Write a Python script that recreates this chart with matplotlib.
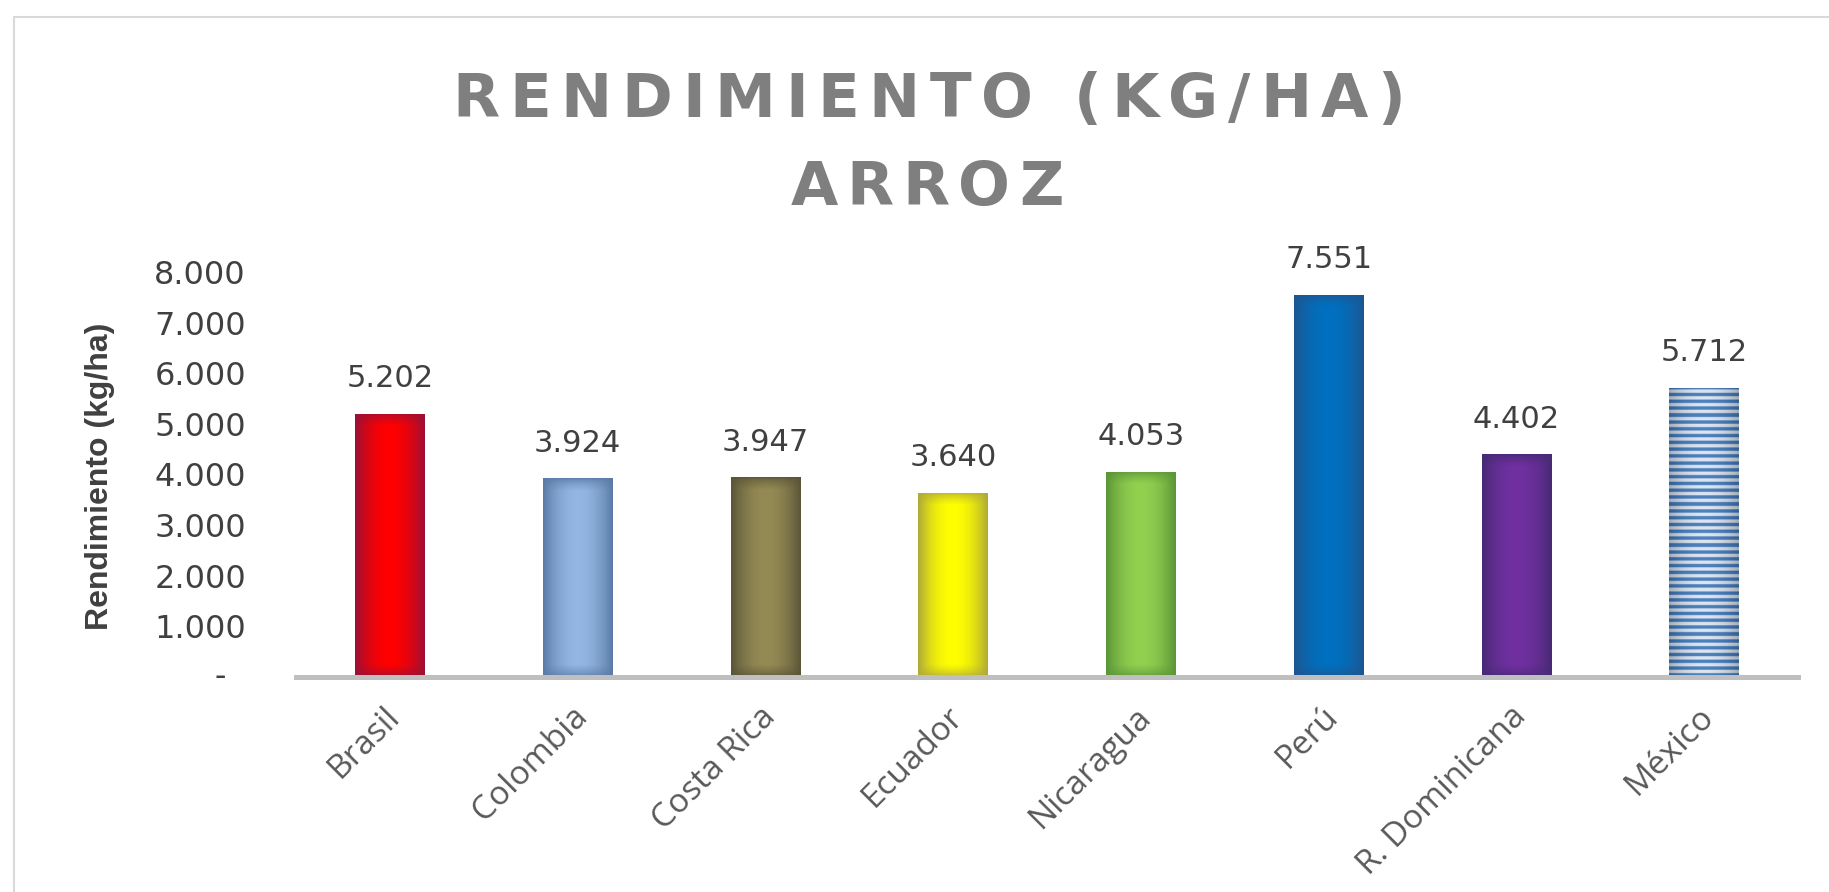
import numpy as np
import matplotlib
matplotlib.use('Agg')
import matplotlib.pyplot as plt
import matplotlib.transforms as mtransforms
from matplotlib.patches import Rectangle
from matplotlib.colors import to_rgb

# Datos
paises = ['Brasil', 'Colombia', 'Costa Rica', 'Ecuador', 'Nicaragua', 'Perú',
          'R. Dominicana', 'México']
rendimiento = [5202, 3924, 3947, 3640, 4053, 7551, 4402, 5712]
color_centro = ['#FF0000', '#93B6E2', '#948A54', '#FFFF00', '#92D050', '#0070C0',
                '#7030A0', '#4F81BD']
color_borde = ['#9A1035', '#5A7BA6', '#5A5538', '#B0AA38', '#5A9538', '#1D5690',
               '#472A75', '#2F5F95']
yticks = [0, 1000, 2000, 3000, 4000, 5000, 6000, 7000, 8000]
titulo = ['RENDIMIENTO (KG/HA)', 'ARROZ']

W, H = 1829, 892


def miles(v):
    return f'{v:,.0f}'.replace(',', '.')


def spaced_text(fig, s, xc, y, target_w, **kw):
    # texto con espaciado entre letras (como en Excel)
    renderer = fig.canvas.get_renderer()
    parts = [fig.text(0, y, ch, ha='left', va='baseline', **kw) for ch in s]
    widths = [p.get_window_extent(renderer).width for p in parts]
    gap = (target_w - sum(widths)) / (len(s) - 1)
    x = xc * W - target_w / 2
    for p, w in zip(parts, widths):
        p.set_x(x / W)
        x += w + gap


fig = plt.figure(figsize=(W / 100, H / 100), dpi=100)
ax = fig.add_axes([296 / W, 1 - 677 / H, (1798 - 296) / W, (677 - 272) / H])

ancho = 0.37
x = np.arange(len(paises))
bars = ax.bar(x, rendimiento, width=ancho, color='none', linewidth=0, zorder=2)

# relleno con degradado
for i, (b, v) in enumerate(zip(bars, rendimiento)):
    c1 = np.array(to_rgb(color_centro[i]))
    c0 = np.array(to_rgb(color_borde[i]))
    nx, ny = 80, 600
    tx = np.linspace(-1, 1, nx)
    fx = 1 - np.abs(tx) ** 2.0
    yy = np.linspace(0, v, ny)
    dist = np.minimum(yy, v - yy) / 250.0
    fy = np.clip(dist, 0, 1) ** 0.6
    f = np.outer(fy, fx)[..., None]
    img = c0 + (c1 - c0) * f
    if paises[i] == 'México':
        claro = np.array(to_rgb('#DCE6F2'))
        oscuro = c0 + (c1 - c0) * np.outer(np.ones(ny), fx)[..., None]
        luz = claro * (0.75 + 0.25 * np.outer(np.ones(ny), fx))[..., None]
        franja = ((yy % 135) / 135 < 0.5)[:, None, None]
        img = np.where(franja, oscuro, luz)
    im = ax.imshow(img, extent=[b.get_x(), b.get_x() + b.get_width(), 0, v],
                   origin='lower', aspect='auto', zorder=2, interpolation='bilinear')
    im.set_clip_path(b)
    ax.annotate(miles(v), xy=(b.get_x() + b.get_width() / 2, v), xytext=(0, 19),
                textcoords='offset points', ha='center', va='baseline',
                fontsize=22, color='#404040', family='DejaVu Sans')

ax.set_xlim(-0.5, len(paises) - 0.5)
ax.set_ylim(0, 8000)

for s in ['top', 'right', 'left']:
    ax.spines[s].set_visible(False)
ax.spines['bottom'].set_color('#BFBFBF')
ax.spines['bottom'].set_linewidth(3.6)
ax.spines['bottom'].set_zorder(3)

ax.set_yticks(yticks)
ax.set_yticklabels([''] + [miles(v) for v in yticks[1:]])
ax.tick_params(axis='y', length=0, pad=36, labelsize=23, labelcolor='#404040')
ax.annotate('-', xy=(0, 0), xycoords=('axes fraction', 'data'), xytext=(-76, 0),
            textcoords='offset pixels', ha='center', va='center',
            fontsize=23, color='#404040')

ax.set_xticks(x)
ax.set_xticklabels(paises, rotation=45, ha='right', va='center',
                   rotation_mode='anchor', fontsize=24, color='#595959',
                   family='Open Sans')
ax.tick_params(axis='x', length=0, pad=25)
desplaza = mtransforms.ScaledTranslation(5 / 100, 0, fig.dpi_scale_trans)
for lab in ax.get_xticklabels():
    lab.set_transform(lab.get_transform() + desplaza)

fig.text(100 / W, 1 - 476 / H, 'Rendimiento (kg/ha)', rotation=90, ha='center',
         va='center', fontsize=23, fontweight='bold', color='#404040',
         family='Liberation Sans')

spaced_text(fig, titulo[0], 929 / W, 1 - 117 / H, 953, fontsize=44,
            fontweight='bold', color='#7F7F7F', family='DejaVu Sans')
spaced_text(fig, titulo[1], 927 / W, 1 - 205 / H, 273, fontsize=44,
            fontweight='bold', color='#7F7F7F', family='DejaVu Sans')

# marco del gráfico
fig.patches.append(Rectangle((14 / W, -0.1), 2, 1.1 - 17 / H, transform=fig.transFigure,
                             fill=False, edgecolor='#D9D9D9', linewidth=1.5))

fig.savefig('out.png', dpi=100)
